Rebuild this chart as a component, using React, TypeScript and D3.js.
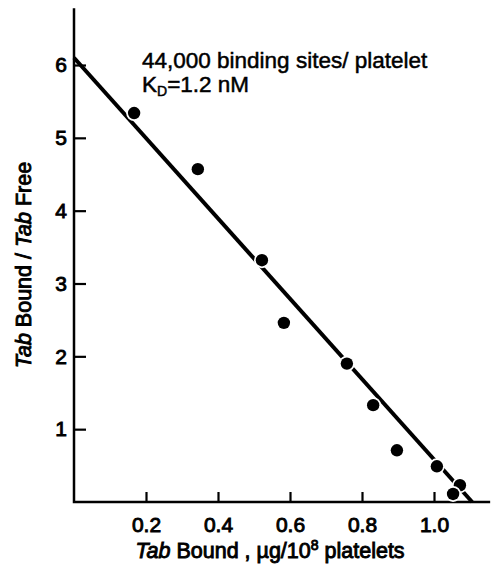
import React, { useEffect, useRef } from "react";
import * as d3 from "d3";

// Scatchard plot values
const boundX = [0.167, 0.344, 0.522, 0.583, 0.758, 0.831, 0.897, 1.008, 1.072, 1.053];
const ratioY = [5.34, 4.57, 3.32, 2.46, 1.9, 1.33, 0.71, 0.49, 0.23, 0.11];
const fitX = [0.0, 1.106];
const fitY = [6.1, 0];
const xTicks = [0.2, 0.4, 0.6, 0.8, 1.0];
const yTicks = [1, 2, 3, 4, 5, 6];

const width = 499;
const height = 570;
const font = "'Liberation Sans', Arial, sans-serif";

export default function App() {
  const ref = useRef<SVGSVGElement>(null);

  useEffect(() => {
    const svg = d3.select(ref.current);
    svg.selectAll("*").remove();

    const x = d3.scaleLinear().domain([0, 1]).range([74, 434]);
    const y = d3.scaleLinear().domain([0, 6]).range([502, 65]);

    // thicken normal-weight text a bit, like the scanned lettering
    const heavy = sel => sel.attr("stroke", "#000").attr("stroke-width", 0.9).attr("fill", "#000");

    const xAxis = g =>
      g
        .attr("transform", `translate(0,${y(0)})`)
        .call(d3.axisBottom(x).tickValues(xTicks).tickFormat(d3.format(".1f")).tickSize(-10).tickPadding(15))
        .call(g => g.select(".domain").remove())
        .call(g => g.selectAll(".tick line").attr("stroke", "#000").attr("stroke-width", 2.2))
        .call(g =>
          g.selectAll(".tick text").attr("font-size", 21).attr("font-family", font).call(heavy)
        );

    const yAxis = g =>
      g
        .attr("transform", `translate(${x(0)},0)`)
        .call(d3.axisLeft(y).tickValues(yTicks).tickFormat(d3.format("d")).tickSize(-12).tickPadding(7))
        .call(g => g.select(".domain").remove())
        .call(g => g.selectAll(".tick line").attr("stroke", "#000").attr("stroke-width", 2.2))
        .call(g =>
          g.selectAll(".tick text").attr("font-size", 21).attr("font-family", font).call(heavy)
        );

    svg.append("g").call(xAxis);
    svg.append("g").call(yAxis);

    // axis lines
    svg
      .append("path")
      .attr("d", `M${x(0)},${y(6.78)}V${y(0)}H${x(1.156)}`)
      .attr("fill", "none")
      .attr("stroke", "#000")
      .attr("stroke-width", 2.5);

    // fitted line
    const line = d3
      .line<number>()
      .x((d, i) => x(d))
      .y((d, i) => y(fitY[i]));
    svg
      .append("path")
      .attr("d", line(fitX))
      .attr("fill", "none")
      .attr("stroke", "#000")
      .attr("stroke-width", 4);

    // points, with a white halo that breaks the line
    svg
      .append("g")
      .selectAll("circle")
      .data(boundX)
      .join("circle")
      .attr("cx", d => x(d))
      .attr("cy", (d, i) => y(ratioY[i]))
      .attr("r", 6.2)
      .attr("fill", "#000")
      .attr("stroke", "#fff")
      .attr("stroke-width", 3.5)
      .attr("paint-order", "stroke");

    // annotation
    const note = svg
      .append("text")
      .attr("font-family", font)
      .attr("font-size", 22.5)
      .call(heavy)
      .attr("stroke-width", 0.5);
    note.append("tspan").attr("x", 142).attr("y", 68).text("44,000 binding sites/ platelet");
    note.append("tspan").attr("x", 142).attr("y", 92).text("K");
    note.append("tspan").attr("font-size", 14).attr("dy", 4).text("D");
    note.append("tspan").attr("dy", -4).text("=1.2 nM");

    // x title
    const xt = svg
      .append("text")
      .attr("x", 270)
      .attr("y", 558)
      .attr("text-anchor", "middle")
      .attr("font-family", font)
      .attr("font-size", 21.5)
      .call(heavy);
    xt.append("tspan").attr("font-style", "italic").text("Tab");
    xt.append("tspan").text(" Bound , \u00b5g/10");
    xt.append("tspan").attr("font-size", 14).attr("dy", -8).text("8");
    xt.append("tspan").attr("dy", 8).text(" platelets");

    // y title
    const yt = svg
      .append("text")
      .attr("transform", `translate(31,265) rotate(-90)`)
      .attr("text-anchor", "middle")
      .attr("font-family", font)
      .attr("font-size", 21.5)
      .call(heavy);
    yt.append("tspan").attr("font-style", "italic").text("Tab");
    yt.append("tspan").text(" Bound / ");
    yt.append("tspan").attr("font-style", "italic").text("Tab");
    yt.append("tspan").text(" Free");
  }, []);

  return (
    <svg
      ref={ref}
      width={width}
      height={height}
      style={{ position: "absolute", left: 0, top: 0, background: "#fff" }}
    />
  );
}
